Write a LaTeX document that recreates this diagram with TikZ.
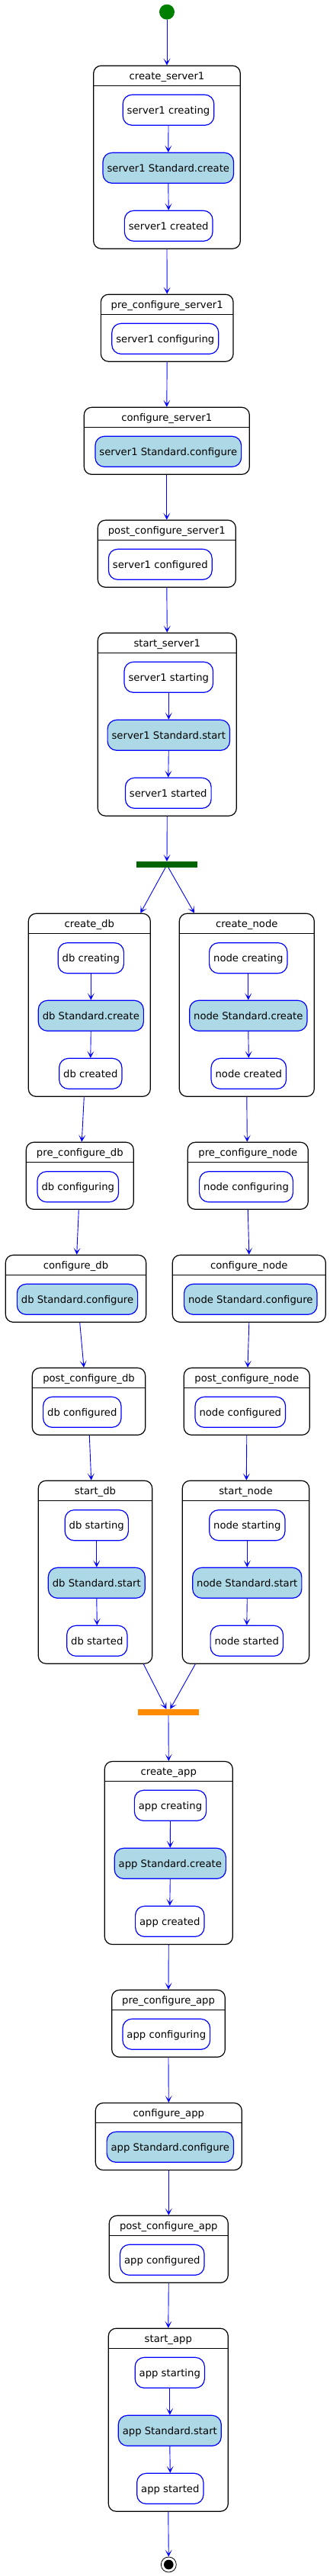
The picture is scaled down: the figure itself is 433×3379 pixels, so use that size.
\documentclass[tikz,border=0pt]{standalone}
\usepackage{fontspec}
\setmainfont{DejaVu Sans}
\usetikzlibrary{arrows.meta}
\definecolor{stdblue}{HTML}{ADD8E6}
\definecolor{forkgreen}{HTML}{006400}
\definecolor{joinorange}{HTML}{FF8C00}
\definecolor{startgreen}{HTML}{008000}
\begin{document}
\begin{tikzpicture}[
    x=1pt, y=-1pt,
    every node/.style={font=\fontsize{13.2}{15}\selectfont},
    state/.style={draw, line width=1.2pt, rounded corners=10pt, inner sep=0pt,
        path picture={\draw[line width=1pt] ([yshift=-26pt]path picture bounding box.north west) -- ([yshift=-26pt]path picture bounding box.north east);}},
    title/.style={inner sep=0pt, text height=9.6pt, text depth=0pt},
    act/.style={draw=blue, line width=1.2pt, rounded corners=12pt, fill=white, minimum height=40pt,
        inner xsep=5.5pt, inner ysep=0pt, text height=9.6pt, text depth=0pt},
    std/.style={act, fill=stdblue},
    flow/.style={-{Stealth[length=9pt, width=9pt, inset=5pt]}, blue, line width=0.9pt},
    bar/.style={inner sep=0pt, minimum width=80pt, minimum height=8pt}
]
    \useasboundingbox (0,0) rectangle (433,3379);

    % --- start ---
    \node[circle, fill=startgreen, minimum size=20pt, inner sep=0pt] (start) at (219,15.7) {};

    % --- server1 ---
    \node[state, minimum width=192.6pt, minimum height=240pt] (cs1) at (219,206.2) {};
    \node[title] at ([yshift=-14pt]cs1.north) {create\_server1};
    \node[act] (cs1a) at (221,144.3) {server1 creating};
    \node[std] (cs1b) at (220.8,220.3) {server1 Standard.create};
    \node[act] (cs1c) at (221.2,296.3) {server1 created};

    \node[state, minimum width=173.7pt, minimum height=88pt] (pcs1) at (219.2,430.2) {};
    \node[title] at ([yshift=-14pt]pcs1.north) {pre\_configure\_server1};
    \node[act] (pcs1a) at (216.8,444.3) {server1 configuring};

    \node[state, minimum width=217pt, minimum height=88pt] (cfs1) at (218.8,578.3) {};
    \node[title] at ([yshift=-14pt]cfs1.north) {configure\_server1};
    \node[std] (cfs1a) at (220.8,592.3) {server1 Standard.configure};

    \node[state, minimum width=181pt, minimum height=88pt] (pos1) at (218.8,726.3) {};
    \node[title] at ([yshift=-14pt]pos1.north) {post\_configure\_server1};
    \node[act] (pos1a) at (210.3,740.3) {server1 configured};

    \node[state, minimum width=182pt, minimum height=240pt] (ss1) at (219.3,950.2) {};
    \node[title] at ([yshift=-14pt]ss1.north) {start\_server1};
    \node[act] (ss1a) at (221.3,888.3) {server1 starting};
    \node[std] (ss1b) at (221.3,964.3) {server1 Standard.start};
    \node[act] (ss1c) at (220.8,1040.3) {server1 started};

    \node[bar, fill=forkgreen] (fork) at (219,1134) {};

    % --- db (left) ---
    \node[state, minimum width=160pt, minimum height=240pt] (cdb) at (117.3,1318.3) {};
    \node[title] at ([yshift=-14pt]cdb.north) {create\_db};
    \node[act] (cdba) at (119.3,1256.7) {db creating};
    \node[std] (cdbb) at (119.3,1332.3) {db Standard.create};
    \node[act] (cdbc) at (118.8,1408.3) {db created};

    \node[state, minimum width=141pt, minimum height=88pt] (pdb) at (104.8,1542.3) {};
    \node[title] at ([yshift=-14pt]pdb.north) {pre\_configure\_db};
    \node[act] (pdba) at (102.3,1556.7) {db configuring};

    \node[state, minimum width=184.4pt, minimum height=88pt] (fdb) at (99.5,1690.3) {};
    \node[title] at ([yshift=-14pt]fdb.north) {configure\_db};
    \node[std] (fdba) at (101.5,1704.3) {db Standard.configure};

    \node[state, minimum width=148.4pt, minimum height=88pt] (odb) at (116.5,1838.3) {};
    \node[title] at ([yshift=-14pt]odb.north) {post\_configure\_db};
    \node[act] (odba) at (107.8,1852.3) {db configured};

    \node[state, minimum width=149.4pt, minimum height=240pt] (sdb) at (125,2062.2) {};
    \node[title] at ([yshift=-14pt]sdb.north) {start\_db};
    \node[act] (sdba) at (126.8,2000.7) {db starting};
    \node[std] (sdbb) at (126.8,2076.3) {db Standard.start};
    \node[act] (sdbc) at (127.3,2152.3) {db started};

    % --- node (right) ---
    \node[state, minimum width=177pt, minimum height=240pt] (cnd) at (323.8,1318.3) {};
    \node[title] at ([yshift=-14pt]cnd.north) {create\_node};
    \node[act] (cnda) at (325.8,1256.7) {node creating};
    \node[std] (cndb) at (325.8,1332.3) {node Standard.create};
    \node[act] (cndc) at (326.3,1408.3) {node created};

    \node[state, minimum width=158pt, minimum height=88pt] (pnd) at (325.3,1542.3) {};
    \node[title] at ([yshift=-14pt]pnd.north) {pre\_configure\_node};
    \node[act] (pnda) at (323,1556.7) {node configuring};

    \node[state, minimum width=201pt, minimum height=88pt] (fnd) at (326.8,1690.3) {};
    \node[title] at ([yshift=-14pt]fnd.north) {configure\_node};
    \node[std] (fnda) at (328.8,1704.3) {node Standard.configure};

    \node[state, minimum width=165pt, minimum height=88pt] (ond) at (323.8,1838.3) {};
    \node[title] at ([yshift=-14pt]ond.north) {post\_configure\_node};
    \node[act] (onda) at (315.3,1852.3) {node configured};

    \node[state, minimum width=166.4pt, minimum height=240pt] (snd) at (322.5,2062.2) {};
    \node[title] at ([yshift=-14pt]snd.north) {start\_node};
    \node[act] (snda) at (324.3,2000.7) {node starting};
    \node[std] (sndb) at (324.3,2076.3) {node Standard.start};
    \node[act] (sndc) at (323.8,2152.3) {node started};

    \node[bar, fill=joinorange] (join) at (221,2246) {};

    % --- app ---
    \node[state, minimum width=168pt, minimum height=240pt] (cap) at (221.3,2430.5) {};
    \node[title] at ([yshift=-14pt]cap.north) {create\_app};
    \node[act] (capa) at (223.5,2368.3) {app creating};
    \node[std] (capb) at (223.3,2444.3) {app Standard.create};
    \node[act] (capc) at (222.8,2520.3) {app created};

    \node[state, minimum width=148.6pt, minimum height=88pt] (pap) at (221,2654.3) {};
    \node[title] at ([yshift=-14pt]pap.north) {pre\_configure\_app};
    \node[act] (papa) at (218.3,2668.3) {app configuring};

    \node[state, minimum width=192pt, minimum height=88pt] (fap) at (221.3,2802.5) {};
    \node[title] at ([yshift=-14pt]fap.north) {configure\_app};
    \node[std] (fapa) at (223.3,2816.3) {app Standard.configure};

    \node[state, minimum width=156pt, minimum height=88pt] (oap) at (221.3,2950.3) {};
    \node[title] at ([yshift=-14pt]oap.north) {post\_configure\_app};
    \node[act] (oapa) at (212.8,2964.3) {app configured};

    \node[state, minimum width=157pt, minimum height=240pt] (sap) at (220.8,3174.2) {};
    \node[title] at ([yshift=-14pt]sap.north) {start\_app};
    \node[act] (sapa) at (222.8,3112.3) {app starting};
    \node[std] (sapb) at (222.8,3188.3) {app Standard.start};
    \node[act] (sapc) at (223.3,3264.3) {app started};

    % --- end ---
    \node[circle, draw, line width=0.8pt, minimum size=20pt, inner sep=0pt] (end) at (221.3,3364) {};
    \node[circle, fill=black, minimum size=12.6pt, inner sep=0pt] (endin) at (end) {};

    % --- transitions ---
    \draw[flow] (start.south) -- (cs1.north);
    \draw[flow] (cs1a.south) -- (cs1b.north);
    \draw[flow] (cs1b.south) -- (cs1c.north);
    \draw[flow] (cs1.south) -- (pcs1.north);
    \draw[flow] (pcs1.south) -- (cfs1.north);
    \draw[flow] (cfs1.south) -- (pos1.north);
    \draw[flow] (pos1.south) -- (ss1.north);
    \draw[flow] (ss1a.south) -- (ss1b.north);
    \draw[flow] (ss1b.south) -- (ss1c.north);
    \draw[flow] (ss1.south) -- (fork.north);

    \draw[flow] ([xshift=-2pt]fork.south) -- ([xshift=67pt]cdb.north);
    \draw[flow] ([xshift=2pt]fork.south) -- ([xshift=-68.8pt]cnd.north);

    \draw[flow] (cdba.south) -- (cdbb.north);
    \draw[flow] (cdbb.south) -- (cdbc.north);
    \draw[flow] ([xshift=-7pt]cdb.south) -- ([xshift=2.5pt]pdb.north);
    \draw[flow] ([xshift=-1.5pt]pdb.south) -- ([xshift=1.2pt]fdb.north);
    \draw[flow] ([xshift=5.2pt]fdb.south) -- ([xshift=-6.5pt]odb.north);
    \draw[flow] ([xshift=0.8pt]odb.south) -- ([xshift=-5.3pt]sdb.north);
    \draw[flow] (sdba.south) -- (sdbb.north);
    \draw[flow] (sdbb.south) -- (sdbc.north);

    \draw[flow] (cnda.south) -- (cndb.north);
    \draw[flow] (cndb.south) -- (cndc.north);
    \draw[flow] (cnd.south) -- ([xshift=-1pt]pnd.north);
    \draw[flow] (pnd.south) -- (fnd.north);
    \draw[flow] (fnd.south) -- ([xshift=1.2pt]ond.north);
    \draw[flow] (ond.south) -- ([xshift=0.8pt]snd.north);
    \draw[flow] (snda.south) -- (sndb.north);
    \draw[flow] (sndb.south) -- (sndc.north);

    \draw[flow] ([xshift=63.3pt]sdb.south) -- ([xshift=-2.7pt]join.north);
    \draw[flow] ([xshift=-66.2pt]snd.south) -- ([xshift=2.3pt]join.north);

    \draw[flow] (join.south) -- (cap.north);
    \draw[flow] (capa.south) -- (capb.north);
    \draw[flow] (capb.south) -- (capc.north);
    \draw[flow] (cap.south) -- (pap.north);
    \draw[flow] (pap.south) -- (fap.north);
    \draw[flow] (fap.south) -- (oap.north);
    \draw[flow] (oap.south) -- (sap.north);
    \draw[flow] (sapa.south) -- (sapb.north);
    \draw[flow] (sapb.south) -- (sapc.north);
    \draw[flow] (sap.south) -- (end.north);
\end{tikzpicture}
\end{document}
